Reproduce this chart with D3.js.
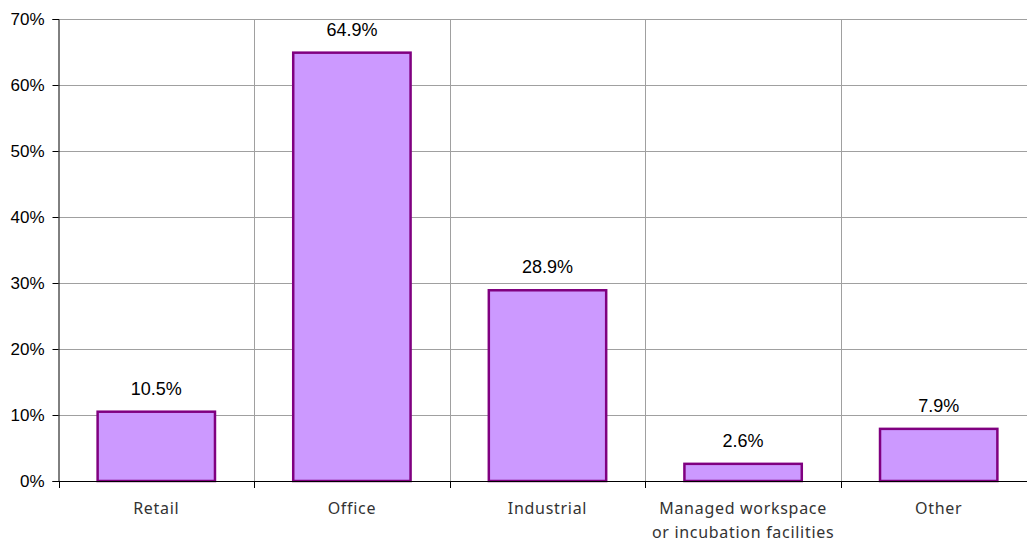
<!DOCTYPE html>
<html>
<head>
<meta charset="utf-8">
<script src="https://cdn.jsdelivr.net/npm/d3@7"></script>
<style>
  html, body { margin: 0; padding: 0; background: #fff; }
  svg { display: block; }
</style>
</head>
<body>
<svg id="chart" width="1027" height="544"></svg>
<script>
// Share of floorspace by property type
const categories = ["Retail", "Office", "Industrial", "Managed workspace\nor incubation facilities", "Other"];
const shares = [10.5, 64.9, 28.9, 2.6, 7.9];
const yTicks = [0, 10, 20, 30, 40, 50, 60, 70];

const svg = d3.select("#chart");
const plotLeft = 58.5, plotTop = 19, plotBottom = 481;
const step = 195.6;
const plotRight = plotLeft + step * categories.length;

const x = d3.scaleBand()
  .domain(categories)
  .range([plotLeft, plotRight])
  .paddingInner(0.4)
  .paddingOuter(0.2);

const y = d3.scaleLinear().domain([0, 70]).range([plotBottom, plotTop]);

// horizontal gridlines
svg.append("g")
  .selectAll("line")
  .data(yTicks.filter(d => d > 0))
  .join("line")
  .attr("x1", plotLeft).attr("x2", plotRight)
  .attr("y1", d => Math.round(y(d)) + 0.5).attr("y2", d => Math.round(y(d)) + 0.5)
  .attr("stroke", "#a0a0a0").attr("stroke-width", 1);

// vertical gridlines at category boundaries
const bounds = categories.map((c, i) => plotLeft + step * i);
svg.append("g")
  .selectAll("line")
  .data(bounds.slice(1))
  .join("line")
  .attr("x1", d => Math.round(d) + 0.5).attr("x2", d => Math.round(d) + 0.5)
  .attr("y1", plotTop).attr("y2", plotBottom)
  .attr("stroke", "#a0a0a0").attr("stroke-width", 1);

// bars
svg.append("g")
  .selectAll("rect")
  .data(shares)
  .join("rect")
  .attr("x", (d, i) => x(categories[i]))
  .attr("y", d => y(d))
  .attr("width", x.bandwidth())
  .attr("height", d => plotBottom - y(d))
  .attr("fill", "#CC99FF")
  .attr("stroke", "#800080")
  .attr("stroke-width", 2.5);

// value labels
svg.append("g")
  .selectAll("text")
  .data(shares)
  .join("text")
  .attr("x", (d, i) => x(categories[i]) + x.bandwidth() / 2)
  .attr("y", d => y(d) - 17)
  .attr("text-anchor", "middle")
  .attr("font-family", "'Liberation Sans', Arial, sans-serif")
  .attr("font-size", 18)
  .attr("fill", "#000")
  .text(d => d.toFixed(1) + "%");

// y axis
const yAxis = svg.append("g")
  .attr("transform", `translate(${plotLeft},0)`)
  .call(d3.axisLeft(y).tickValues(yTicks).tickFormat(d => d + "%").tickSize(6).tickPadding(8));
yAxis.select(".domain").attr("stroke", "#000");
yAxis.selectAll(".tick line").attr("stroke", "#000");
yAxis.selectAll("text")
  .attr("font-family", "'Liberation Sans', Arial, sans-serif")
  .attr("font-size", 17)
  .attr("fill", "#000");

// x axis baseline and boundary ticks
svg.append("line")
  .attr("x1", plotLeft).attr("x2", plotRight)
  .attr("y1", plotBottom + 0.5).attr("y2", plotBottom + 0.5)
  .attr("stroke", "#000");
svg.append("g")
  .selectAll("line")
  .data(bounds)
  .join("line")
  .attr("x1", d => Math.round(d) + 0.5).attr("x2", d => Math.round(d) + 0.5)
  .attr("y1", plotBottom).attr("y2", plotBottom + 7)
  .attr("stroke", "#000");

// category labels
const catLabels = svg.append("g")
  .selectAll("text")
  .data(categories)
  .join("text")
  .attr("x", d => x(d) + x.bandwidth() / 2)
  .attr("y", 514)
  .attr("text-anchor", "middle")
  .attr("font-family", "'Noto Sans', 'DejaVu Sans', sans-serif")
  .attr("font-size", 16)
  .attr("letter-spacing", 0.7)
  .attr("fill", "#333");
catLabels.each(function(d) {
  const lines = d.split("\n");
  d3.select(this).selectAll("tspan")
    .data(lines)
    .join("tspan")
    .attr("x", x(d) + x.bandwidth() / 2)
    .attr("dy", (l, i) => i === 0 ? 0 : 24)
    .text(l => l);
});
</script>
</body>
</html>
